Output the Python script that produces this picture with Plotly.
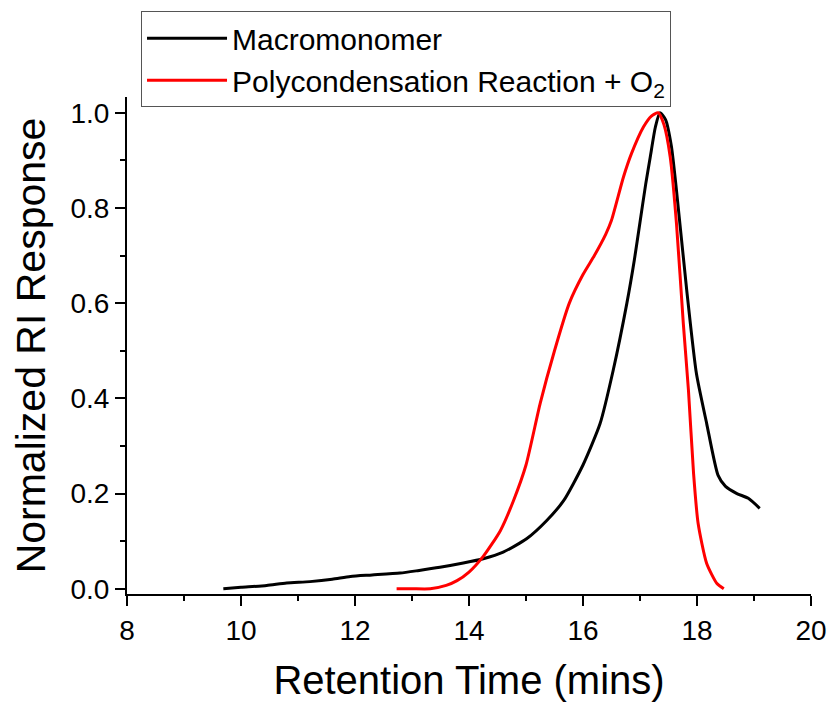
import plotly.graph_objects as go

# Macromonomer (black)
macro_x = [9.69, 10.0, 10.45, 10.8, 11.21, 11.6, 11.92, 12.3, 12.79, 13.1, 13.49, 13.9,
           14.25, 14.6, 15.01, 15.36, 15.66, 16.0, 16.3, 16.53, 16.77, 16.9, 17.0, 17.1,
           17.18, 17.27, 17.35, 17.45, 17.55, 17.64, 17.82, 17.99, 18.17, 18.37, 18.5,
           18.7, 18.9, 19.1]
macro_y = [0.0, 0.003, 0.007, 0.012, 0.015, 0.02, 0.026, 0.029, 0.033, 0.038, 0.045, 0.054,
           0.063, 0.077, 0.105, 0.143, 0.185, 0.26, 0.347, 0.459, 0.60, 0.69, 0.77, 0.85,
           0.907, 0.97, 1.0, 0.985, 0.93, 0.837, 0.627, 0.452, 0.347, 0.238, 0.215,
           0.200, 0.19, 0.169]

# Polycondensation Reaction + O2 (red)
poly_x = [12.73, 13.0, 13.32, 13.6, 13.79, 14.0, 14.25, 14.55, 14.78, 15.0, 15.25, 15.5,
          15.76, 16.0, 16.2, 16.4, 16.5, 16.71, 16.85, 17.06, 17.2, 17.32, 17.42, 17.53,
          17.64, 17.76, 17.85, 17.94, 18.02, 18.17, 18.35, 18.47]
poly_y = [0.0, 0.0, 0.0, 0.007, 0.017, 0.035, 0.068, 0.122, 0.185, 0.26, 0.39, 0.50,
          0.60, 0.66, 0.70, 0.745, 0.774, 0.865, 0.914, 0.97, 0.993, 1.0, 0.975, 0.907,
          0.767, 0.557, 0.417, 0.242, 0.137, 0.053, 0.011, 0.0]

x_ticks = [8, 10, 12, 14, 16, 18, 20]
y_ticks = [0.0, 0.2, 0.4, 0.6, 0.8, 1.0]
y_tick_labels = ["0.0", "0.2", "0.4", "0.6", "0.8", "1.0"]

FONT = "Liberation Sans, Arial, sans-serif"

fig = go.Figure()
fig.add_trace(go.Scatter(x=macro_x, y=macro_y, mode="lines", name="Macromonomer",
                         line=dict(color="black", width=3, shape="spline", smoothing=0.6)))
fig.add_trace(go.Scatter(x=poly_x, y=poly_y, mode="lines",
                         name="Polycondensation Reaction + O<sub>2</sub>",
                         line=dict(color="#ff0000", width=3, shape="spline", smoothing=0.6)))

axis_common = dict(showgrid=False, zeroline=False, showline=True, linecolor="black",
                   linewidth=2, ticks="outside", tickcolor="black", tickwidth=2,
                   ticklen=10, tickfont=dict(family=FONT, size=28, color="black"),
                   mirror=False, automargin=False)

fig.update_xaxes(range=[8, 20], tickvals=x_ticks,
                 minor=dict(dtick=1, ticks="outside", ticklen=5, tickwidth=2, tickcolor="black"),
                 title=dict(text="Retention Time (mins)", font=dict(family=FONT, size=40, color="black"),
                            standoff=22),
                 **axis_common)
fig.update_yaxes(range=[-0.011, 1.033], tickvals=y_ticks, ticktext=y_tick_labels,
                 minor=dict(dtick=0.1, ticks="outside", ticklen=5, tickwidth=2, tickcolor="black"),
                 title=dict(text="Normalized RI Response", font=dict(family=FONT, size=41, color="black"),
                            standoff=12),
                 **axis_common)

fig.update_layout(
    width=828, height=702,
    margin=dict(l=127, r=17, t=97, b=108, autoexpand=False),
    plot_bgcolor="white", paper_bgcolor="white",
    showlegend=True,
    legend=dict(x=0.0205, y=1.1724, xanchor="left", yanchor="top",
                bordercolor="#555555", borderwidth=1, bgcolor="white",
                font=dict(family=FONT, size=30, color="black"),
                tracegroupgap=0, itemwidth=80),
)

fig.write_html("out.html")
